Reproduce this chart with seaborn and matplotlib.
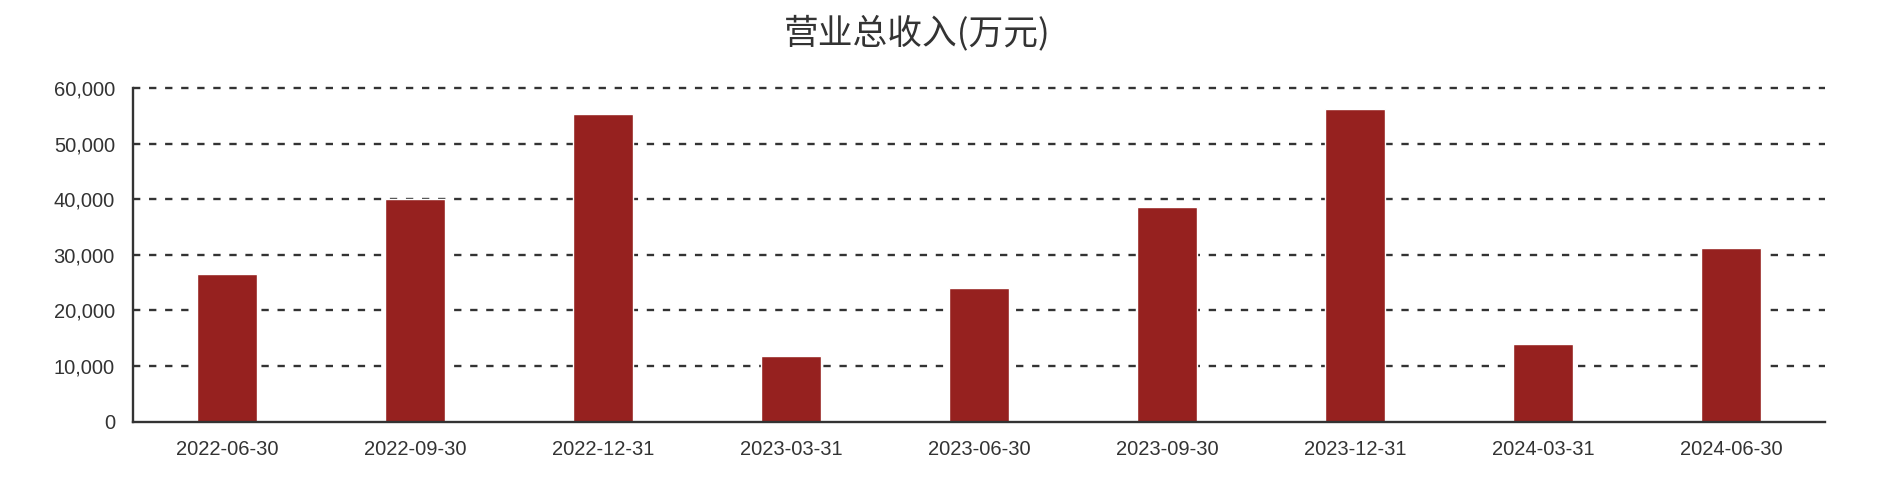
import matplotlib
matplotlib.use("Agg")
import matplotlib.pyplot as plt
from matplotlib.ticker import FuncFormatter
import seaborn as sns
import pandas as pd

# report dates and total revenue (10k yuan)
dates = ["2022-06-30", "2022-09-30", "2022-12-31", "2023-03-31", "2023-06-30",
         "2023-09-30", "2023-12-31", "2024-03-31", "2024-06-30"]
revenue = [26500, 40100, 55400, 11800, 24100, 38600, 56300, 13900, 31300]
y_ticks = [0, 10000, 20000, 30000, 40000, 50000, 60000]
title = "营业总收入(万元)"

BAR_COLOR = "#96211F"
INK = "#333333"

sns.set_theme(style="white")
plt.rcParams["font.family"] = ["Liberation Sans", "DejaVu Sans"]

df = pd.DataFrame({"date": dates, "revenue": revenue})

fig = plt.figure(figsize=(18.78, 4.94), dpi=100)
ax = fig.add_axes([133 / 1878, 1 - 421.7 / 494, 1692 / 1878, 333.7 / 494])

sns.barplot(data=df, x="date", y="revenue", color=BAR_COLOR, width=0.32,
            saturation=1, ax=ax, zorder=3)

ax.set_xlim(-0.5, len(dates) - 0.5)
ax.set_ylim(0, 60000)
ax.set_yticks(y_ticks)
ax.yaxis.set_major_formatter(FuncFormatter(lambda v, p: f"{int(v):,}"))

# dashed horizontal grid (skip the zero line, the axis covers it)
for t in y_ticks[1:]:
    ax.axhline(t, color=INK, lw=1.7, linestyle=(0, (3.1, 3.7)),
               zorder=1, clip_on=False)

ax.set_xlabel("")
ax.set_ylabel("")
ax.tick_params(axis="both", length=0, labelsize=14.5, labelcolor=INK)
ax.tick_params(axis="x", pad=13)
ax.tick_params(axis="y", pad=13)

for side in ["top", "right"]:
    ax.spines[side].set_visible(False)
for side in ["left", "bottom"]:
    ax.spines[side].set_color(INK)
    ax.spines[side].set_linewidth(1.7)
    ax.spines[side].set_zorder(4)

fig.text(917 / 1878, 1 - 33 / 494, title, ha="center", va="center",
         fontsize=25, color=INK, family=["Noto Sans CJK SC", "DejaVu Sans"])

fig.savefig("out.png", dpi=100, facecolor="white")
